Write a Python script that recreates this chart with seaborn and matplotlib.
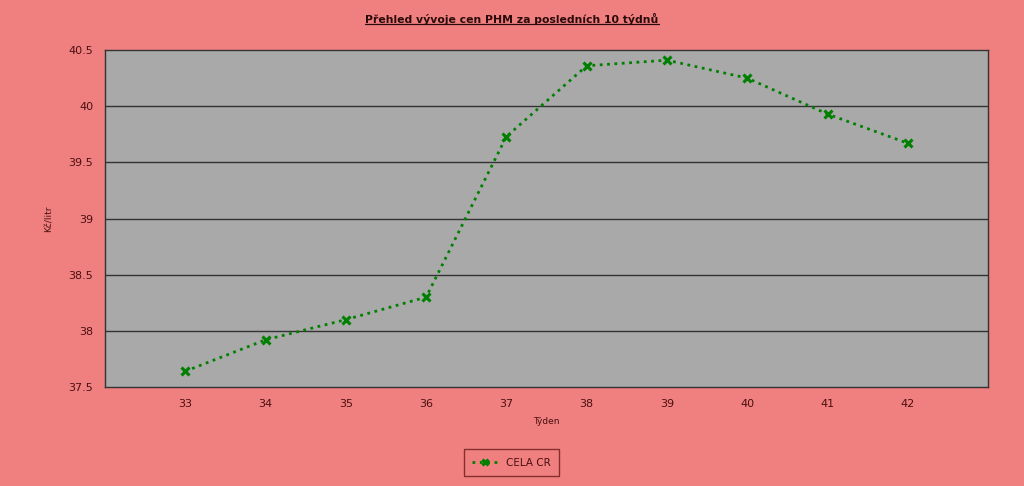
import matplotlib
matplotlib.use("Agg")
import matplotlib.pyplot as plt
import seaborn as sns
import pandas as pd

# weekly data
weeks = [33, 34, 35, 36, 37, 38, 39, 40, 41, 42]
prices = [37.64, 37.92, 38.10, 38.30, 39.73, 40.36, 40.41, 40.25, 39.93, 39.67]
series_name = "CELA CR"
y_ticks = [37.5, 38, 38.5, 39, 39.5, 40, 40.5]
y_tick_labels = ["37.5", "38", "38.5", "39", "39.5", "40", "40.5"]

df = pd.DataFrame({"Týden": weeks, "Kč/litr": prices, "serie": series_name})

sns.set_style("white")
plt.rcParams["font.family"] = ["DejaVu Sans"]

txt = "#4a1010"
bg = "#F08080"
green = "#008000"

fig = plt.figure(figsize=(10.24, 4.86), dpi=100, facecolor=bg)
ax = fig.add_axes([0.1025, 0.2037, 0.8625, 0.6933])
ax.set_facecolor("#A9A9A9")

sns.lineplot(data=df, x="Týden", y="Kč/litr", hue="serie", palette=[green],
             linestyle=":", linewidth=2.0, marker="x", markersize=6,
             markeredgewidth=2.2, markeredgecolor=green, ax=ax)

ax.set_xlim(32, 43)
ax.set_ylim(37.5, 40.5)
ax.set_xticks(range(32, 44))
ax.set_xticklabels([""] + [str(w) for w in weeks] + [""])
ax.set_yticks(y_ticks)
ax.set_yticklabels(y_tick_labels)
for y in y_ticks[1:-1]:
    ax.axhline(y, color="#333333", linewidth=1, zorder=0)

for s in ax.spines.values():
    s.set_color("#333333")
    s.set_linewidth(1)
ax.tick_params(axis="both", direction="out", length=5, width=1, color="#333333",
               labelcolor=txt, labelsize=8)

ax.set_xlabel("Týden", fontsize=6.5, color=txt, labelpad=6)
ax.set_ylabel("Kč/litr", fontsize=6.5, color=txt, labelpad=11)

title = fig.text(0.5, 0.962, "Přehled vývoje cen PHM za posledních 10 týdnů", ha="center",
                 va="center", fontsize=7.8, fontweight="bold", color="#2a0a0a")
# underline under the title
fig.canvas.draw()
bb = title.get_window_extent().transformed(fig.transFigure.inverted())
fig.add_artist(plt.Line2D([bb.x0, bb.x1], [bb.y0 + 0.002, bb.y0 + 0.002],
                          color="#2a0a0a", linewidth=0.9))

leg = ax.legend(loc="center", bbox_to_anchor=(0.46, -0.225), frameon=True,
                fontsize=7.5, handlelength=2.4, borderpad=0.8, fancybox=False,
                markerscale=0.8)
leg.get_frame().set_facecolor(bg)
leg.get_frame().set_edgecolor("#6a1a1a")
leg.get_frame().set_linewidth(1)
for t in leg.get_texts():
    t.set_color(txt)

fig.savefig("out.png", dpi=100, facecolor=bg)
